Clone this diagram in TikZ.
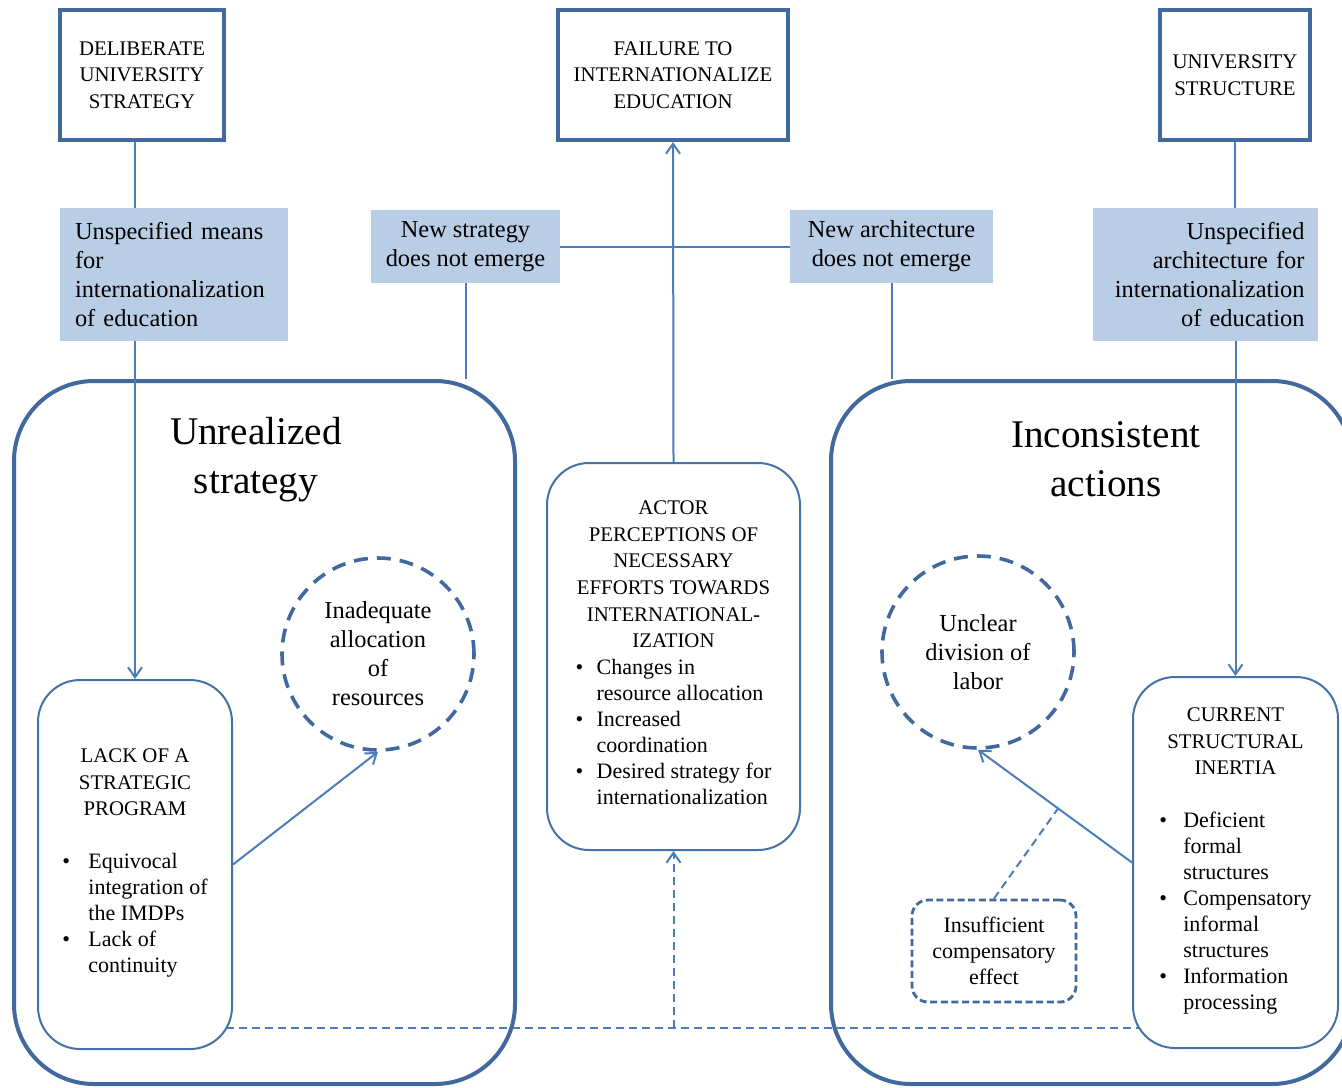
\documentclass[tikz,border=0pt]{standalone}
\usepackage{fontspec}
\setmainfont{Liberation Serif}
\usetikzlibrary{arrows.meta,calc,backgrounds}

\definecolor{frameblue}{HTML}{41699D}
\definecolor{boxblue}{HTML}{4472A8}
\definecolor{linkblue}{HTML}{4A7EBB}
\definecolor{fillblue}{HTML}{B9CDE5}

\newcommand\fcap{\fontsize{10.4}{13.3}\selectfont}
\newcommand\fmid{\fontsize{12.2}{14.5}\selectfont}
\newcommand\fsm{\fontsize{11}{13}\selectfont}
\newcommand\fbig{\fontsize{19.6}{24.5}\selectfont}
% bullet list: #1 = hanging indent, #2 = rows "bullet & text \\ & text ..."
\newcommand\blist[2]{\fsm\begin{tabular}[t]{@{}p{#1}@{}l@{}}#2\end{tabular}}

\begin{document}
\begin{tikzpicture}[x=0.5pt,y=-0.5pt,
  topbox/.style={draw=frameblue, line width=2pt, fill=white, minimum height=65pt,
    inner sep=2pt, font=\fcap, align=center},
  bluebox/.style={fill=fillblue, inner sep=3pt, font=\fmid},
  bigbox/.style={draw=frameblue, line width=2pt, rounded corners=40pt},
  softbox/.style={draw=boxblue, line width=1pt, fill=white, rounded corners=21pt,
    inner sep=2pt, font=\fcap, align=center},
  dcirc/.style={circle, draw=frameblue, line width=1.8pt, dash pattern=on 7pt off 4.5pt,
    fill=white, minimum size=96pt, inner sep=0pt, font=\fmid, align=center},
  insbox/.style={draw=frameblue, line width=1.4pt, dash pattern=on 3.5pt off 1.8pt,
    rounded corners=8pt, fill=white, font=\fsm, align=center},
  conn/.style={draw=linkblue, line width=1pt},
  arr/.style={conn, -{Straight Barb[length=5pt,width=7pt]}},
  dconn/.style={conn, dash pattern=on 4pt off 2.5pt},
  darr/.style={dconn, -{Straight Barb[length=5pt,width=7pt]}}]

\begin{scope}[on background layer]
  \fill[white] (0,0) rectangle (1342,1087);
\end{scope}
\useasboundingbox (0,0) rectangle (1342,1087);

% the two large rounded regions
\node[bigbox, minimum width=250.5pt, minimum height=351.5pt] (bigL) at (264.5,732.5) {};
\node[bigbox, minimum width=260.5pt, minimum height=351.5pt] (bigR) at (1091.5,732.5) {};
\node[font=\fbig, align=center] (ttlL) at (256,460) {Unrealized\\strategy};
\node[font=\fbig, align=center] (ttlR) at (1106,459) {Inconsistent\\actions};

% top row
\node[topbox, minimum width=82pt] (tl) at (142,75) {DELIBERATE\\UNIVERSITY\\STRATEGY};
\node[topbox, minimum width=115pt] (tc) at (673,75) {FAILURE TO\\INTERNATIONALIZE\\EDUCATION};
\node[topbox, minimum width=75pt] (tr) at (1235,75) {UNIVERSITY\\STRUCTURE};

% shaded statements
\node[bluebox, minimum width=114pt, minimum height=66.5pt, text width=99pt, align=left]
  (b1) at (174,274.5) {Unspecified means\\for\\internationalization\\of education};
\node[bluebox, minimum width=94.5pt, minimum height=36.5pt, align=center]
  (b2) at (465.5,246.5) {New strategy\\does not emerge};
\node[bluebox, minimum width=101.5pt, minimum height=36.5pt, align=center]
  (b3) at (891.5,246.5) {New architecture\\does not emerge};
\node[bluebox, minimum width=112.5pt, minimum height=66.5pt, text width=99pt, align=right]
  (b4) at (1205.5,274.5) {Unspecified\\architecture for\\internationalization\\of education};

% dashed circles
\node[dcirc] (lc) at (378,654) {Inadequate\\allocation\\of\\resources};
\node[dcirc] (rc) at (978,652) {Unclear\\division of\\labor};

% rounded boxes
\node[softbox, minimum width=97pt, minimum height=184.5pt] (lack) at (135,864.5)
  {LACK OF A\\STRATEGIC\\PROGRAM\\[13pt]
   \blist{13pt}{\textbullet & Equivocal\\ & integration of\\ & the IMDPs\\
     \textbullet & Lack of\\ & continuity}};
\node[softbox, minimum width=126.5pt, minimum height=193.5pt] (actor) at (673.5,656.5)
  {ACTOR\\PERCEPTIONS OF\\NECESSARY\\EFFORTS TOWARDS\\INTERNATIONAL-\\IZATION\\
   \blist{10.5pt}{\textbullet & Changes in\\ & resource allocation\\
     \textbullet & Increased\\ & coordination\\
     \textbullet & Desired strategy for\\ & internationalization}};
\node[softbox, minimum width=102.5pt, minimum height=185.5pt] (cur) at (1235.5,862.5)
  {CURRENT\\STRUCTURAL\\INERTIA\\[13pt]
   \blist{12pt}{\textbullet & Deficient\\ & formal\\ & structures\\
     \textbullet & Compensatory\\ & informal\\ & structures\\
     \textbullet & Information\\ & processing}};
\node[insbox, minimum width=82pt, minimum height=51pt] (ins) at (994,951)
  {Insufficient\\compensatory\\effect};

% connectors
\draw[conn] (tl.south -| lack.north) -- (b1.north -| lack.north);
\draw[arr] (b1.south -| lack.north) -- (lack.north);
\draw[conn] (b2.south) -- (b2.south |- bigL.north);
\draw[conn] (b3.south) -- (b3.south |- bigR.north);
\draw[conn] (b2.east) -- (b3.west);
\draw[arr] (actor.north) -- (tc.south);
\draw[conn] (tr.south) -- (b4.north -| tr.south);
\draw[arr] (b4.south -| cur.north) -- (cur.north);
\draw[arr] (lack.east) -- (lc.south);
\draw[arr] (cur.west) -- (rc.south);
\draw[dconn] (ins.north) -- ($(cur.west)!0.48!(rc.south)$);

\coordinate (dashy) at (0,1028);
\begin{scope}[on background layer]
  \draw[dconn] (lack.center |- dashy) -- (cur.center |- dashy);
\end{scope}
\draw[darr] (actor.south |- dashy) -- (actor.south);
\end{tikzpicture}
\end{document}
